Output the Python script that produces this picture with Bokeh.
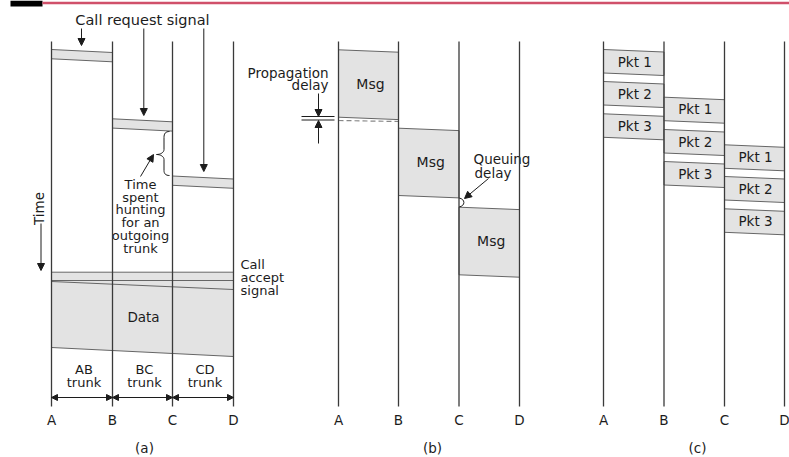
import math
from bokeh.plotting import figure
from bokeh.models import Range1d, Arrow, NormalHead
from bokeh.core.properties import value
from bokeh.embed import file_html
from bokeh.resources import INLINE

# ---------------- data ----------------
node_labels = ["A", "B", "C", "D"]
panel_a_x = [51, 112, 172, 233]
panel_b_x = [338, 398, 458.5, 519]
panel_c_x = [603, 663.5, 724, 784]
panel_titles = ["(a)", "(b)", "(c)"]
panel_title_x = [144, 432, 697]

line_top = 41
line_bottom = 406
label_y = 419
title_y = 447

# (a) circuit switching
request_top = [49, 118.3, 175.5]
request_height = 9.3
accept_top = 271.7
accept_bottom = 280
data_top = [281, 289]        # at A, at D
data_bottom = [347, 356]     # at A, at D
trunk_labels = [["AB", "trunk"], ["BC", "trunk"], ["CD", "trunk"]]
hunting_label = ["Time", "spent", "hunting", "for an", "outgoing", "trunk"]
accept_label = ["Call", "accept", "signal"]

# (b) message switching
msg_top = [49.3, 127.7, 206.7]
msg_bottom = [116.7, 195, 274.3]

# (c) packet switching
pkt_names = ["Pkt 1", "Pkt 2", "Pkt 3"]
pkt_top = [[49, 81, 113.3], [96.7, 129, 161], [144.3, 176, 208.3]]
pkt_height = 23.5
hop_slope = 2.5

# ---------------- styles ----------------
FONT = value("DejaVu Sans")
FS = "13.5px"
FS_SMALL = "13px"
TXT = "#1c1c1c"
FILL = "#e3e3e3"
EDGE = "#666666"
VLINE = "#3a3a3a"

p = figure(width=789, height=457, x_range=Range1d(0, 789), y_range=Range1d(457, 0),
           output_backend="svg", toolbar_location=None, min_border=0,
           outline_line_color=None, background_fill_color="white")
p.axis.visible = False
p.grid.visible = False

# header
p.quad(left=[10], right=[42], top=[0], bottom=[6], fill_color="black", line_color=None)
p.segment(x0=[42], y0=[2.5], x1=[789], y1=[2.5], line_color="#d0506a", line_width=2.5)


def para(x0, x1, t, b, s):
    return [x0, x1, x1, x0], [t, t + s, b + s, b]


def txt(x, y, t, size=FS, align="center", angle=0.0):
    p.text(x=[x], y=[y], text=[t], text_font=FONT, text_font_size=size,
           text_align=align, text_baseline="middle", text_color=TXT, angle=angle)


def txt_lines(x, y0, lines, step, align="center", size=FS_SMALL):
    for j, t in enumerate(lines):
        txt(x, y0 + j * step, t, size=size, align=align)


def arrow(x0, y0, x1, y1, both=False, size=7):
    head = lambda: NormalHead(size=size, fill_color=TXT, line_color=TXT, line_width=1)
    p.add_layout(Arrow(start=head() if both else None, end=head(),
                       x_start=x0, y_start=y0, x_end=x1, y_end=y1,
                       line_color=TXT, line_width=1))


xs_all, ys_all = [], []

# ---- panel (a)
for i in range(3):
    xs, ys = para(panel_a_x[i], panel_a_x[i + 1], request_top[i],
                  request_top[i] + request_height, 3)
    xs_all.append(xs); ys_all.append(ys)
p.patches(xs_all, ys_all, fill_color=FILL, line_color=EDGE, line_width=1)

ax0, ax3 = panel_a_x[0], panel_a_x[3]
p.patch([ax0, ax3, ax3, ax0], [accept_top, accept_top, data_bottom[1], data_bottom[0]],
        fill_color=FILL, line_color=None)
p.segment(x0=[ax0, ax0, ax0, ax0], y0=[accept_top, accept_bottom, data_top[0], data_bottom[0]],
          x1=[ax3, ax3, ax3, ax3], y1=[accept_top, accept_bottom, data_top[1], data_bottom[1]],
          line_color=EDGE, line_width=1)
txt((ax0 + ax3) / 2 + 1, 316, "Data")

for i in range(3):
    txt_lines((panel_a_x[i] + panel_a_x[i + 1]) / 2 + 2, 369, trunk_labels[i], 13)
    arrow(panel_a_x[i], 397, panel_a_x[i + 1], 397, both=True, size=6)

txt(142, 19, "Call request signal", "14.5px")
arrow(81, 28, 81, 45)
arrow(143.3, 28, 143.3, 115)
arrow(203.3, 28, 203.3, 171)

txt_lines(140, 184, hunting_label, 12.7)
arrow(140, 176, 153, 154)
# brace
p.bezier(x0=[169, 163.5, 156, 163.5], y0=[131, 149, 154, 170],
         x1=[163.5, 156, 163.5, 169], y1=[137, 154, 159, 175],
         cx0=[165, 163.5, 160, 163.5], cy0=[131, 152, 154, 173],
         cx1=[163.5, 160, 163.5, 165], cy1=[133, 154, 156, 175],
         line_color=TXT, line_width=1)
p.segment(x0=[163.5, 163.5], y0=[137, 159], x1=[163.5, 163.5], y1=[149, 170],
          line_color=TXT, line_width=1)

txt_lines(240, 264, accept_label, 13, align="left")
txt(38, 208, "Time", angle=math.pi / 2)
arrow(40.5, 223, 40.5, 270)

# ---- panel (b)
xs_all, ys_all = [], []
for i in range(3):
    xs, ys = para(panel_b_x[i], panel_b_x[i + 1], msg_top[i], msg_bottom[i], 2.4)
    xs_all.append(xs); ys_all.append(ys)
p.patches(xs_all, ys_all, fill_color=FILL, line_color=EDGE, line_width=1)
for i in range(3):
    txt((panel_b_x[i] + panel_b_x[i + 1]) / 2 + 2, (msg_top[i] + msg_bottom[i]) / 2, "Msg", "14px")

p.segment(x0=[panel_b_x[0]], y0=[120], x1=[panel_b_x[1]], y1=[121],
          line_color="#888888", line_width=1.2, line_dash="5 3")
p.segment(x0=[301, 301], y0=[116, 119.5], x1=[334, 334], y1=[116, 119.5],
          line_color=TXT, line_width=1)
arrow(318, 93, 318, 116)
arrow(318, 143, 318, 120)
txt(328, 72, "Propagation", align="right")
txt(328, 84.5, "delay", align="right")

p.bezier(x0=[panel_b_x[2]], y0=[197.5], x1=[panel_b_x[2]], y1=[206.5],
         cx0=[465], cy0=[198.5], cx1=[465], cy1=[205.5], line_color=TXT, line_width=1)
arrow(488, 178, 464, 198)
txt(473, 158.5, "Queuing", align="left")
txt(474, 172.5, "delay", align="left")

# ---- panel (c)
xs_all, ys_all = [], []
for h in range(3):
    for k in range(3):
        xs, ys = para(panel_c_x[h], panel_c_x[h + 1], pkt_top[h][k],
                      pkt_top[h][k] + pkt_height, hop_slope)
        xs_all.append(xs); ys_all.append(ys)
p.patches(xs_all, ys_all, fill_color=FILL, line_color=EDGE, line_width=1)
for h in range(3):
    for k in range(3):
        txt((panel_c_x[h] + panel_c_x[h + 1]) / 2 + 1,
            pkt_top[h][k] + pkt_height / 2 + 0.5, pkt_names[k])

# ---- vertical node lines, labels, titles
for px, tx, tt in zip([panel_a_x, panel_b_x, panel_c_x], panel_title_x, panel_titles):
    p.segment(x0=px, y0=[line_top] * 4, x1=px, y1=[line_bottom] * 4,
              line_color=VLINE, line_width=1.3)
    for x, lab in zip(px, node_labels):
        txt(x, label_y, lab)
    txt(tx, title_y, tt)

open("out.html", "w").write(file_html(p, INLINE))
